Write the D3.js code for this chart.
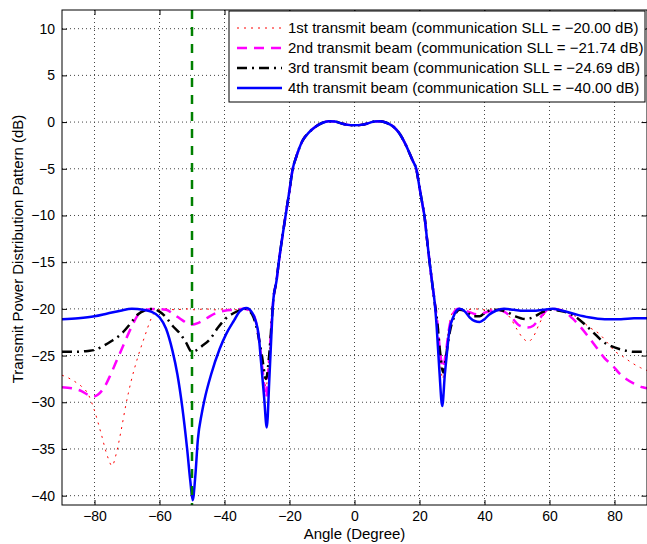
<!DOCTYPE html>
<html>
<head>
<meta charset="utf-8">
<script src="https://cdn.jsdelivr.net/npm/d3@7"></script>
<style>
  body { margin: 0; background: #fff; }
  svg text { font-family: "Liberation Sans", Arial, Helvetica, sans-serif; }
</style>
</head>
<body>
<div id="chart"></div>
<script>
// Width and height
var width  = 647;
var height = 544;

var margin = { top: 10, right: 0, bottom: 39, left: 62 };

// tick labels
var xTicks = [-80, -60, -40, -20, 0, 20, 40, 60, 80];
var yTicks = [10, 5, 0, -5, -10, -15, -20, -25, -30, -35, -40];

// angle of the green marker line
var markerAngle = -50;

// main lobe, the same for every beam  [angle, dB]
var mainLobe = [
  [-25, -19.1], [-24, -17], [-23.3, -15], [-22.2, -12.3], [-21.2, -10], [-20, -7.3],
  [-19, -5], [-18, -3.8], [-17, -2.8], [-16, -2], [-14, -1.1], [-12, -0.5],
  [-10, -0.1], [-8, 0.1], [-6, 0.05], [-4, -0.15], [-2, -0.3], [0, -0.35],
  [2, -0.3], [4, -0.15], [6, 0.05], [8, 0.1], [10, -0.1], [12, -0.5],
  [14, -1.3], [15, -1.9], [16, -2.6], [17, -3.4], [18, -4.2], [19, -5],
  [20, -7], [21, -9], [21.5, -10], [22.3, -12.5], [23.1, -15], [24, -17.5], [24.6, -19.1]
];

// 1st transmit beam, sidelobes
var beam1Left = [
  [-90, -27.1], [-88, -27.4], [-86, -27.8], [-84, -28.3], [-82, -29.1], [-80, -30.9],
  [-78, -33.3], [-76, -35.8], [-74.6, -36.8], [-73.3, -35.5], [-71.8, -33], [-70.3, -30.2],
  [-68.7, -27.7], [-66.7, -25.2], [-64.6, -23], [-62.5, -21], [-61, -20.2], [-58, -20],
  [-55, -20.1], [-52, -20], [-49, -20.1], [-46, -20], [-43, -20.1], [-40, -20],
  [-37, -20.1], [-34, -20], [-31, -20.7], [-29.5, -23], [-28.3, -26], [-27.2, -28.4],
  [-26.5, -26], [-25.5, -21.5]
];
var beam1Right = [
  [25.5, -21.5], [26.3, -25], [27.1, -27.5], [28, -25], [29, -22], [30, -20.5],
  [31.5, -20], [34, -20.1], [37, -20], [40, -20.1], [43, -20], [46, -20.3],
  [48, -21], [50, -22.2], [52, -23.2], [53.5, -23.5], [55, -23], [57, -21.5],
  [59, -20.3], [61, -20], [64, -20.2], [66, -20.5], [68, -20.8], [70, -21.3],
  [72, -21.9], [75.4, -22.7], [78, -23.7], [80, -24.5], [82.6, -25.1], [85, -25.7],
  [88, -26.3], [90, -26.6]
];

// 2nd transmit beam, sidelobes
var beam2Left = [
  [-90, -28.4], [-87, -28.5], [-84, -28.8], [-82, -29.2], [-80.5, -29.4], [-79, -29.2],
  [-77, -28.4], [-75, -27], [-73, -25.4], [-71, -23.8], [-68.7, -22], [-66.5, -20.6],
  [-64, -20.1], [-61, -20], [-58, -20.1], [-55.5, -20.6], [-53, -21.2], [-50.5, -21.7],
  [-48, -21.5], [-45.5, -21], [-43, -20.5], [-40, -20.2], [-37, -20.1], [-34, -20],
  [-31, -20.7], [-29.5, -23], [-28.3, -26.5], [-27.2, -29.5], [-26.4, -26], [-25.5, -21.5]
];
var beam2Right = [
  [25.5, -21.5], [26.3, -24.5], [27.2, -26.3], [28, -25], [29, -22.3], [30.5, -20.4],
  [32, -20], [35, -20.3], [38, -20.6], [41, -20.3], [44, -20.1], [46, -20.3],
  [48, -20.8], [50.8, -21.8], [53.3, -22], [55, -21.8], [57, -21], [60, -20],
  [63, -20.1], [65, -20.4], [67, -21], [69.2, -21.8], [72, -23], [74.4, -24.1],
  [77, -25.3], [79.5, -26.1], [81.5, -26.9], [83.6, -27.5], [86, -28], [88.7, -28.4], [90, -28.5]
];

// 3rd transmit beam, sidelobes
var beam3Left = [
  [-90, -24.6], [-86, -24.6], [-82, -24.5], [-80, -24.4], [-78, -24.1], [-75, -23.5],
  [-71.8, -22.7], [-69, -21.6], [-66.7, -20.6], [-64, -20.1], [-62, -20], [-60, -20.3],
  [-58, -20.9], [-56, -21.8], [-53.8, -22.6], [-52, -23.5], [-50, -24.6], [-49, -24.5],
  [-47, -24], [-44.6, -23.3], [-42, -22], [-39.5, -21], [-37.4, -20.5], [-35, -20.1],
  [-33.5, -20], [-31.5, -20.6], [-29.8, -22.5], [-28.5, -25], [-27.2, -27.5], [-26.4, -25.5],
  [-25.5, -21.5]
];
var beam3Right = [
  [25.5, -21.5], [26.3, -24.5], [27.3, -26.8], [28.2, -25], [29.3, -22.5], [30.5, -21],
  [32.3, -20.1], [34, -20.2], [36.4, -20.8], [38.5, -20.8], [40.5, -20.3], [43, -20.1],
  [46.7, -20.3], [49.5, -20.8], [52.8, -21.1], [55, -20.9], [57.5, -20.4], [60, -20.1],
  [63, -20.2], [66.2, -20.5], [69, -21.1], [71.3, -21.8], [74, -22.7], [76.4, -23.5],
  [79, -24], [82.6, -24.4], [86, -24.6], [90, -24.6]
];

// 4th transmit beam, sidelobes
var beam4Left = [
  [-90, -21.1], [-85, -21], [-80, -20.8], [-76, -20.5], [-72, -20.2], [-68.5, -20],
  [-65, -20.1], [-62.6, -20.3], [-60, -20.9], [-58, -22.1], [-56, -24.5], [-54.5, -27],
  [-53, -30.5], [-51.5, -35], [-50.5, -38.5], [-49.8, -40.5], [-49, -38], [-48.2, -34],
  [-47, -31.2], [-46.2, -29.8], [-44.1, -27], [-41.5, -24.3], [-39.5, -22.7], [-37, -21.2],
  [-35.4, -20.3], [-33.3, -19.9], [-31.5, -20.4], [-30.5, -21.2], [-29.5, -22.8], [-28.7, -25.9],
  [-27.8, -29.5], [-27, -32.7], [-26.2, -27.5], [-25.6, -23]
];
var beam4Right = [
  [25.3, -22], [26.1, -26.5], [27, -30.4], [27.8, -27], [28.5, -24.5], [29.2, -22.3],
  [30.5, -20.8], [32.3, -20], [34, -20.3], [35.4, -20.9], [37, -21.3], [38.5, -21.4],
  [40, -21.1], [41.5, -20.6], [43.5, -20.2], [46, -20], [49, -20.1], [52, -20.2],
  [55, -20.2], [58, -20.1], [61, -20], [64, -20.2], [68.2, -20.6], [72, -20.9],
  [77, -21.1], [82, -21.1], [86, -21], [90, -21]
];

var beamNames = [
  "1st transmit beam (communication SLL = \u221220.00 dB)",
  "2nd transmit beam (communication SLL = \u221221.74 dB)",
  "3rd transmit beam (communication SLL = \u221224.69 dB)",
  "4th transmit beam (communication SLL = \u221240.00 dB)"
];

var beams = [
  { name: beamNames[0], data: beam1Left.concat(mainLobe, beam1Right), color: "#ff0000", width: 1,   dash: "2,5" },
  { name: beamNames[1], data: beam2Left.concat(mainLobe, beam2Right), color: "#ff00ff", width: 2.5, dash: "10,7" },
  { name: beamNames[2], data: beam3Left.concat(mainLobe, beam3Right), color: "#000000", width: 2.5, dash: "10,5,2,5" },
  { name: beamNames[3], data: beam4Left.concat(mainLobe, beam4Right), color: "#0000ff", width: 2.5, dash: null }
];

var x = d3.scaleLinear()
    .domain([-90, 90])
    .range([margin.left, width - margin.right]);
var y = d3.scaleLinear()
    .domain([-41, 12])
    .range([height - margin.bottom, margin.top]);

var svg = d3.select("#chart")
    .append("svg")
    .attr("width", width)
    .attr("height", height);

svg.append("defs").append("clipPath")
    .attr("id", "plotClip")
    .append("rect")
    .attr("x", x(-90))
    .attr("y", y(12))
    .attr("width", x(90) - x(-90))
    .attr("height", y(-41) - y(12));

// grid (dotted, matlab style)
var grid = svg.append("g").attr("class", "grid");
grid.selectAll("line.gx")
    .data(xTicks)
    .enter()
    .append("line")
    .attr("x1", function(d){ return x(d); })
    .attr("x2", function(d){ return x(d); })
    .attr("y1", y(12))
    .attr("y2", y(-41))
    .style("stroke", "#444")
    .style("stroke-width", 1)
    .style("stroke-dasharray", "1,3");
grid.selectAll("line.gy")
    .data(yTicks)
    .enter()
    .append("line")
    .attr("x1", x(-90))
    .attr("x2", x(90))
    .attr("y1", function(d){ return y(d); })
    .attr("y2", function(d){ return y(d); })
    .style("stroke", "#444")
    .style("stroke-width", 1)
    .style("stroke-dasharray", "1,3");

// beams
var line = d3.line()
    .x(function(d){ return x(d[0]); })
    .y(function(d){ return y(d[1]); })
    .curve(d3.curveMonotoneX);

var plot = svg.append("g").attr("clip-path", "url(#plotClip)");
plot.selectAll("path.beam")
    .data(beams)
    .enter()
    .append("path")
    .attr("class", "beam")
    .attr("d", function(d){ return line(d.data); })
    .style("fill", "none")
    .style("stroke", function(d){ return d.color; })
    .style("stroke-width", function(d){ return d.width; })
    .style("stroke-dasharray", function(d){ return d.dash; });

// green marker
plot.append("line")
    .attr("x1", x(markerAngle))
    .attr("x2", x(markerAngle))
    .attr("y1", y(12))
    .attr("y2", y(-41))
    .style("stroke", "#008000")
    .style("stroke-width", 2.5)
    .style("stroke-dasharray", "9,8");

// axes, ticks inside
var minus = function(d){ return d3.format("")(d).replace("-", "\u2212"); };
svg.append("g")
    .attr("transform", "translate(0," + y(-41) + ")")
    .call(d3.axisBottom(x).tickValues(xTicks).tickSize(-5).tickPadding(6).tickFormat(minus));
svg.append("g")
    .attr("transform", "translate(" + x(-90) + ",0)")
    .call(d3.axisLeft(y).tickValues(yTicks).tickSize(-5).tickPadding(7).tickFormat(minus));
svg.append("g")
    .attr("transform", "translate(0," + y(12) + ")")
    .call(d3.axisTop(x).tickValues(xTicks).tickSize(-5).tickFormat(""));
svg.append("g")
    .attr("transform", "translate(" + (x(90) - 0.5) + ",0)")
    .call(d3.axisRight(y).tickValues(yTicks).tickSize(-5).tickFormat(""));

svg.selectAll(".domain").remove();
svg.selectAll(".tick line").style("stroke", "#000");
svg.selectAll(".tick text")
    .style("font-size", "14px")
    .style("fill", "#000");

// frame
svg.append("rect")
    .attr("x", x(-90))
    .attr("y", y(12))
    .attr("width", x(90) - x(-90))
    .attr("height", y(-41) - y(12))
    .style("fill", "none")
    .style("stroke", "#000")
    .style("stroke-width", 1);

// axis labels
svg.append("text")
    .attr("x", (x(-90) + x(90)) / 2)
    .attr("y", 539)
    .attr("text-anchor", "middle")
    .style("font-size", "15px")
    .text("Angle (Degree)");
svg.append("text")
    .attr("transform", "translate(23,249) rotate(-90)")
    .attr("text-anchor", "middle")
    .style("font-size", "15px")
    .text("Transmit Power Distribution Pattern (dB)");

// legend
var legendBox = svg.append("g")
    .attr("transform", "translate(229,11)");
legendBox.append("rect")
    .attr("x", 0)
    .attr("y", 0)
    .attr("width", 416)
    .attr("height", 91)
    .style("fill", "#fff")
    .style("stroke", "#000")
    .style("stroke-width", 1);
var legendRow = legendBox.selectAll("g.row")
    .data(beams)
    .enter()
    .append("g")
    .attr("class", "row")
    .attr("transform", function(d, i){ return "translate(0," + (17 + i * 20) + ")"; });
legendRow.append("line")
    .attr("x1", 8)
    .attr("x2", 53)
    .attr("y1", 0)
    .attr("y2", 0)
    .style("stroke", function(d){ return d.color; })
    .style("stroke-width", function(d){ return d.width; })
    .style("stroke-dasharray", function(d){ return d.dash; });
legendRow.append("text")
    .attr("x", 59)
    .attr("y", 0)
    .attr("dy", "0.35em")
    .style("font-size", "15px")
    .text(function(d){ return d.name; });
</script>
</body>
</html>
